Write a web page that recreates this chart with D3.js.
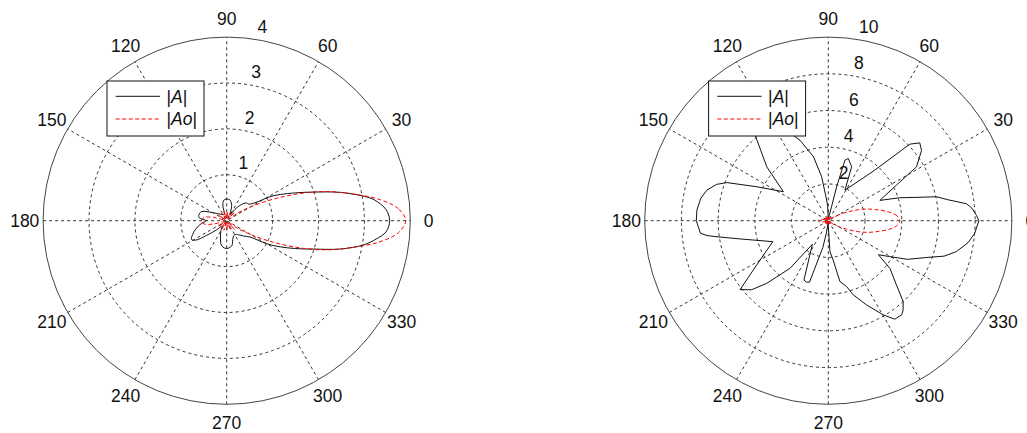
<!DOCTYPE html>
<html>
<head>
<meta charset="utf-8">
<script src="https://cdn.jsdelivr.net/npm/d3@7"></script>
<style>
body { margin: 0; background: #fff; }
svg { display: block; }
text { font-family: "Liberation Sans", Arial, sans-serif; font-size: 17.5px; fill: #111; }
</style>
</head>
<body>
<svg id="chart" width="1027" height="433"></svg>
<script>
// angle ticks (degrees) and radial ticks
var angleTicks = [0, 30, 60, 90, 120, 150, 180, 210, 240, 270, 300, 330];
var leftRadialTicks = [1, 2, 3, 4];
var rightRadialTicks = [2, 4, 6, 8, 10];
var legendLabels = [['|', 'A', '|'], ['|', 'Ao', '|']];

// left plot, |A|  (angle in degrees, magnitude)
var leftAAngles = [0, 4, 8, 10, 14, 18, 22, 26, 29, 32, 37, 42, 48, 54, 60, 66, 72, 80, 86, 92, 98, 104, 110,
  120, 135, 150, 160, 168, 174, 180, 186, 195, 202, 208, 212, 216, 222, 230, 240, 250, 258, 266, 274, 282,
  290, 300, 310, 318, 325, 330, 334, 338, 342, 346, 350, 353, 356];
var leftAValues = [3.55, 3.48, 3.25, 3.05, 2.55, 2.02, 1.62, 1.3, 1.08, 0.75, 0.6, 0.58, 0.47, 0.3, 0.15, 0.2, 0.35, 0.45, 0.47, 0.47, 0.45, 0.35, 0.15,
  0.15, 0.2, 0.35, 0.58, 0.62, 0.6, 0.45, 0.55, 0.7, 0.8, 0.87, 0.8, 0.55, 0.3, 0.15, 0.25, 0.4, 0.55, 0.6, 0.6, 0.55,
  0.4, 0.35, 0.4, 0.5, 0.62, 1.0, 1.3, 1.62, 2.0, 2.55, 3.03, 3.28, 3.48];

// right plot, |A|
var rightAAngles = [0, 2, 5, 7, 10, 12.5, 15, 17.8, 21.5, 27.6, 31.4, 37, 40.4, 43.2, 47.4, 52, 61.5, 66.6, 72.2, 74.6, 76.2, 77, 80, 85,
  90, 92.7, 94.6, 98.6, 103, 109.4, 112.3, 116, 121, 126, 130.6, 138.8, 147.2, 154.6, 159.4, 162, 165.9, 170, 175.4, 180,
  185.6, 187, 188.2, 191.7, 200.7, 211.7, 218, 222, 225.5, 231.2, 236, 247.7, 250.5, 253, 256, 258.5, 261, 265, 270, 273, 277,
  280.8, 285.5, 288.6, 294.4, 300.2, 304, 308, 310, 312.8, 316.7, 322.3, 325.8, 329.7, 334, 339.4, 343, 346.4, 351, 355];
var rightAValues = [8.2, 8.08, 7.85, 7.58, 6.6, 6.03, 4.9, 4.09, 3.02, 4.19, 5.63, 6.36, 6.54, 6.09, 3.74, 2.8, 1.9, 3.2, 3.56, 3.42, 1.9, 0.78, 0.3, 0.08,
  0.1, 0.76, 1.13, 2.42, 3.57, 4.65, 5.02, 6.2, 7.0, 6.8, 6.11, 4.45, 2.91, 4.31, 5.9, 6.4, 6.82, 7.05, 7.18, 7.19,
  7.0, 6.65, 6.13, 4.9, 3.23, 4.58, 6.1, 5.62, 4.78, 3.32, 1.55, 3.5, 3.55, 3.5, 2.0, 1.5, 0.7, 0.15, 0.3, 1.69, 2.15,
  3.37, 3.72, 4.26, 5.03, 5.93, 6.47, 6.5, 6.34, 6.0, 5.1, 4.24, 3.3, 3.88, 4.8, 5.7, 6.6, 7.17, 7.7, 8.0];

// |Ao| (same in both plots)
var aoAngles = [0, 4, 8, 12, 16, 20, 25, 30, 35, 40, 48, 56, 66, 76, 86, 96, 106, 116, 126, 136, 146, 156, 166, 172, 180,
  188, 194, 204, 214, 224, 234, 244, 254, 264, 274, 284, 294, 304, 312, 320, 325, 330, 335, 340, 344, 348, 352, 356];
var aoValues = [3.9, 3.75, 3.35, 2.8, 2.3, 1.75, 1.1, 0.6, 0.3, 0.05, 0.25, 0.05, 0.22, 0.05, 0.2, 0.05, 0.22, 0.05, 0.2, 0.05, 0.22, 0.05, 0.3, 0.5, 0.55,
  0.5, 0.3, 0.05, 0.22, 0.05, 0.2, 0.05, 0.22, 0.05, 0.2, 0.05, 0.22, 0.05, 0.25, 0.05, 0.3, 0.6, 1.1, 1.75, 2.3, 2.8, 3.35, 3.75];

var svg = d3.select('#chart');
var R = 183.6;
var cy = 220.7;

var plots = [
  { cx: 226.7, rmax: 4, ticks: leftRadialTicks, angles: leftAAngles, values: leftAValues, curve: d3.curveCatmullRomClosed.alpha(0.5) },
  { cx: 828.3, rmax: 10, ticks: rightRadialTicks, angles: rightAAngles, values: rightAValues, curve: d3.curveLinearClosed }
];

function toRad(deg){ return deg * Math.PI / 180; }

plots.forEach(function(p){
  var r = d3.scaleLinear().domain([0, p.rmax]).range([0, R]);
  var g = svg.append('g').attr('transform', 'translate(' + p.cx + ',' + cy + ')');

  g.append('circle').attr('r', R).attr('fill', '#fff');

  // dashed rings
  g.selectAll('circle.ring')
    .data(p.ticks.slice(0, -1))
    .enter().append('circle')
    .attr('class', 'ring')
    .attr('r', function(d){ return r(d); })
    .attr('fill', 'none')
    .attr('stroke', '#333')
    .attr('stroke-dasharray', '3,3');

  // spokes
  g.selectAll('line.spoke')
    .data(angleTicks.slice(0, 6))
    .enter().append('line')
    .attr('class', 'spoke')
    .attr('x1', function(d){ return -R * Math.cos(toRad(d)); })
    .attr('y1', function(d){ return R * Math.sin(toRad(d)); })
    .attr('x2', function(d){ return R * Math.cos(toRad(d)); })
    .attr('y2', function(d){ return -R * Math.sin(toRad(d)); })
    .attr('stroke', '#333')
    .attr('stroke-dasharray', '3,3');

  g.append('circle').attr('r', R).attr('fill', 'none').attr('stroke', '#444').attr('stroke-width', 1);

  // angle labels
  g.selectAll('text.ang')
    .data(angleTicks)
    .enter().append('text')
    .attr('class', 'ang')
    .attr('x', function(d){ return 1.1 * R * Math.cos(toRad(d)); })
    .attr('y', function(d){ return -1.1 * R * Math.sin(toRad(d)); })
    .attr('dy', '0.36em')
    .attr('text-anchor', 'middle')
    .text(function(d){ return d; });

  // radial labels at 82 degrees
  var rinc = p.ticks[1] - p.ticks[0];
  g.selectAll('text.rad')
    .data(p.ticks)
    .enter().append('text')
    .attr('class', 'rad')
    .attr('x', function(d){ return r(d + rinc / 20) * Math.cos(toRad(82)) + 5; })
    .attr('y', function(d){ return -r(d + rinc / 20) * Math.sin(toRad(82)) - 4; })
    .text(function(d){ return d; });

  var line = d3.lineRadial()
    .angle(function(d){ return Math.PI / 2 - toRad(d[0]); })
    .radius(function(d){ return r(d[1]); });

  g.append('path')
    .datum(d3.zip(p.angles, p.values))
    .attr('d', line.curve(p.curve))
    .attr('fill', 'none')
    .attr('stroke', '#111')
    .attr('stroke-width', 1);

  g.append('path')
    .datum(d3.zip(aoAngles, aoValues))
    .attr('d', line.curve(d3.curveCatmullRomClosed.alpha(0.5)))
    .attr('fill', 'none')
    .attr('stroke', '#ff0000')
    .attr('stroke-width', 1)
    .attr('stroke-dasharray', '4,2.5');

  // legend
  var lg = g.append('g').attr('transform', 'translate(' + (-119.7) + ',' + (81 - cy) + ')');
  lg.append('rect').attr('width', 97).attr('height', 55)
    .attr('fill', '#fff').attr('stroke', '#111').attr('stroke-width', 1);
  var styles = [{ c: '#111', dash: null }, { c: '#ff0000', dash: '4,2.5' }];
  legendLabels.forEach(function(lbl, i){
    var yy = 15.3 + i * 22.7;
    lg.append('line').attr('x1', 8.7).attr('x2', 53).attr('y1', yy).attr('y2', yy)
      .attr('stroke', styles[i].c).attr('stroke-dasharray', styles[i].dash);
    var t = lg.append('text').attr('x', 59.5).attr('y', yy).attr('dy', '0.36em');
    t.append('tspan').text(lbl[0]);
    t.append('tspan').attr('font-style', 'italic').text(lbl[1]);
    t.append('tspan').text(lbl[2]);
  });
});
</script>
</body>
</html>
